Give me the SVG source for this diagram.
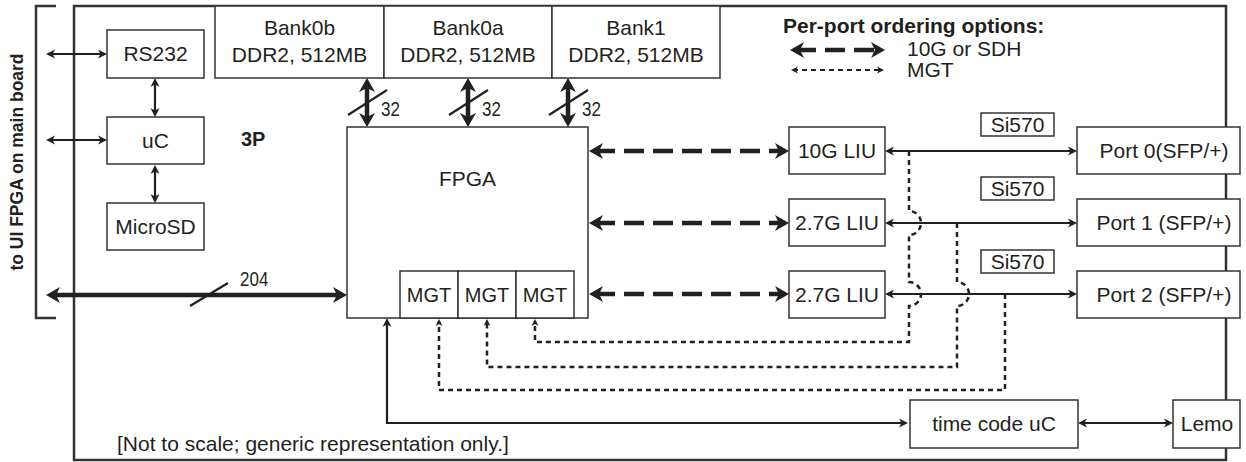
<svg xmlns="http://www.w3.org/2000/svg" width="1246" height="462" viewBox="0 0 1246 462">
<style>
.box{fill:#fff;stroke:#333;stroke-width:1.5}
.t{font-family:"Liberation Sans",Arial,sans-serif;font-size:21px;fill:#231f20;text-anchor:middle}
.s{text-anchor:start}
.b{font-weight:bold}
.n{font-family:"Liberation Sans",Arial,sans-serif;font-size:20px;fill:#231f20}
.thin{stroke:#231f20;stroke-width:2.2;fill:none}
.thick{stroke:#231f20;stroke-width:4.5;fill:none}
.dash{stroke:#231f20;stroke-width:4.5;stroke-dasharray:20 9;fill:none}
.dot{stroke:#231f20;stroke-width:2.5;stroke-dasharray:5 4;fill:none}
.frame{fill:none;stroke:#333;stroke-width:2.5}
</style>
<defs>
<marker id="ah" viewBox="0 0 14 16" markerWidth="14" markerHeight="16" refX="8" refY="8" orient="auto-start-reverse" markerUnits="userSpaceOnUse"><path d="M0,0 L14,8 L0,16 L4,8 Z" fill="#231f20"/></marker>
<marker id="ta" viewBox="0 0 9 10" markerWidth="9" markerHeight="10" refX="7" refY="5" orient="auto-start-reverse" markerUnits="userSpaceOnUse"><path d="M0,0.5 L9,5 L0,9.5 L2.5,5 Z" fill="#231f20"/></marker>
<marker id="da" viewBox="0 0 7 8" markerWidth="7" markerHeight="8" refX="5" refY="4" orient="auto-start-reverse" markerUnits="userSpaceOnUse"><path d="M0,0.5 L7,4 L0,7.5 L2,4 Z" fill="#231f20"/></marker>
</defs>

<g id="board">
<rect class="frame" x="74" y="6" width="1152" height="454"/>
<path class="frame" d="M56,6 H36 V318 H56"/>
<text class="t b" style="font-size:17.5px" transform="translate(23,162) rotate(-90)">to UI FPGA on main board</text>
<text class="t b s" style="font-size:20px" x="241" y="146">3P</text>
<text class="t s" x="117" y="451">[Not to scale; generic representation only.]</text>
</g>

<g id="connectors">
<line class="thin" x1="48" y1="54" x2="105" y2="54" marker-start="url(#ta)" marker-end="url(#ta)"/>
<line class="thin" x1="48" y1="140" x2="105" y2="140" marker-start="url(#ta)" marker-end="url(#ta)"/>
<line class="thin" x1="155" y1="80" x2="155" y2="115" marker-start="url(#ta)" marker-end="url(#ta)"/>
<line class="thin" x1="155" y1="167" x2="155" y2="201" marker-start="url(#ta)" marker-end="url(#ta)"/>
<line class="thick" x1="52" y1="295" x2="341" y2="295" marker-start="url(#ah)" marker-end="url(#ah)"/>
<line class="thin" x1="190" y1="306" x2="228" y2="283"/>
<text class="n" transform="translate(240,286) scale(0.85,1)">204</text>
<line class="thick" x1="367" y1="84" x2="367" y2="121" marker-start="url(#ah)" marker-end="url(#ah)"/>
<line class="thick" x1="468" y1="84" x2="468" y2="121" marker-start="url(#ah)" marker-end="url(#ah)"/>
<line class="thick" x1="568" y1="84" x2="568" y2="121" marker-start="url(#ah)" marker-end="url(#ah)"/>
<line class="thin" x1="348" y1="115" x2="387" y2="90"/>
<line class="thin" x1="449" y1="115" x2="488" y2="90"/>
<line class="thin" x1="549" y1="115" x2="588" y2="90"/>
<text class="n" transform="translate(381,116) scale(0.85,1)">32</text>
<text class="n" transform="translate(482,116) scale(0.85,1)">32</text>
<text class="n" transform="translate(582,116) scale(0.85,1)">32</text>
<line class="dash" x1="595" y1="151" x2="783" y2="151" marker-start="url(#ah)" marker-end="url(#ah)"/>
<line class="dash" x1="595" y1="223" x2="783" y2="223" marker-start="url(#ah)" marker-end="url(#ah)"/>
<line class="dash" x1="595" y1="294" x2="783" y2="294" marker-start="url(#ah)" marker-end="url(#ah)"/>
<line class="thin" x1="887" y1="151" x2="1075" y2="151" marker-start="url(#ta)" marker-end="url(#ta)"/>
<line class="thin" x1="887" y1="223" x2="1075" y2="223" marker-start="url(#ta)" marker-end="url(#ta)"/>
<line class="thin" x1="887" y1="294" x2="1075" y2="294" marker-start="url(#ta)" marker-end="url(#ta)"/>
<path class="dot" d="M909,151 V211 A12,12 0 0 1 909,235 V282 A12,12 0 0 1 909,306 V342 H535 V321" marker-end="url(#da)"/>
<path class="dot" d="M957,223 V282 A12,12 0 0 1 957,306 V367 H487 V321" marker-end="url(#da)"/>
<path class="dot" d="M1005,294 V390 H439 V321" marker-end="url(#da)"/>
<path class="thin" d="M387,320 V423 H906" marker-start="url(#ta)" marker-end="url(#ta)"/>
<line class="thin" x1="1080" y1="423" x2="1171" y2="423" marker-start="url(#ta)" marker-end="url(#ta)"/>
<line class="dash" x1="796" y1="50" x2="879" y2="50" marker-start="url(#ah)" marker-end="url(#ah)"/>
<line class="dot" style="stroke-width:2" x1="793" y1="70" x2="882" y2="70" marker-start="url(#da)" marker-end="url(#da)"/>
</g>

<g id="legend">
<text class="t b s" x="783" y="33">Per-port ordering options:</text>
<text class="t s" x="907" y="56">10G or SDH</text>
<text class="t s" x="907" y="77">MGT</text>
</g>

<g id="rs232"><rect class="box" x="107" y="30" width="97" height="48"/><text class="t" x="155.5" y="61">RS232</text></g>
<g id="uc"><rect class="box" x="107" y="117" width="97" height="47"/><text class="t" x="155.5" y="148">uC</text></g>
<g id="microsd"><rect class="box" x="107" y="203" width="97" height="47"/><text class="t" x="155.5" y="234">MicroSD</text></g>

<g id="bank0b"><rect class="box" x="215" y="6" width="169" height="72"/><text class="t" x="299.5" y="35">Bank0b</text><text class="t" x="299.5" y="62">DDR2, 512MB</text></g>
<g id="bank0a"><rect class="box" x="384" y="6" width="168" height="72"/><text class="t" x="468" y="35">Bank0a</text><text class="t" x="468" y="62">DDR2, 512MB</text></g>
<g id="bank1"><rect class="box" x="552" y="6" width="168" height="72"/><text class="t" x="636" y="35">Bank1</text><text class="t" x="636" y="62">DDR2, 512MB</text></g>

<g id="fpga"><rect class="box" x="347" y="127" width="241" height="191"/><text class="t" x="467.5" y="186">FPGA</text></g>
<g id="mgt1"><rect class="box" x="400" y="271" width="58" height="47"/><text class="t" style="font-size:20px" x="429" y="302">MGT</text></g>
<g id="mgt2"><rect class="box" x="458" y="271" width="58" height="47"/><text class="t" style="font-size:20px" x="487" y="302">MGT</text></g>
<g id="mgt3"><rect class="box" x="516" y="271" width="58" height="47"/><text class="t" style="font-size:20px" x="545" y="302">MGT</text></g>

<g id="liu0"><rect class="box" x="789" y="127" width="96" height="47"/><text class="t" x="837" y="158">10G LIU</text></g>
<g id="liu1"><rect class="box" x="789" y="199" width="96" height="47"/><text class="t" x="837" y="230">2.7G LIU</text></g>
<g id="liu2"><rect class="box" x="789" y="271" width="96" height="47"/><text class="t" x="837" y="302">2.7G LIU</text></g>

<g id="si570a"><rect class="box" x="981" y="113" width="73" height="23"/><text class="t" x="1017.5" y="132">Si570</text></g>
<g id="si570b"><rect class="box" x="981" y="177" width="73" height="23"/><text class="t" x="1017.5" y="196">Si570</text></g>
<g id="si570c"><rect class="box" x="981" y="250" width="73" height="23"/><text class="t" x="1017.5" y="269">Si570</text></g>

<g id="port0"><rect class="box" x="1077" y="127" width="163" height="47"/><text class="t" x="1164" y="158">Port 0(SFP/+)</text></g>
<g id="port1"><rect class="box" x="1077" y="199" width="163" height="47"/><text class="t" x="1164" y="230">Port 1 (SFP/+)</text></g>
<g id="port2"><rect class="box" x="1077" y="271" width="163" height="47"/><text class="t" x="1164" y="302">Port 2 (SFP/+)</text></g>

<g id="timecode"><rect class="box" x="910" y="400" width="168" height="48"/><text class="t" x="994" y="431">time code uC</text></g>
<g id="lemo"><rect class="box" x="1173" y="400" width="67" height="48"/><text class="t" x="1207" y="431">Lemo</text></g>
</svg>
